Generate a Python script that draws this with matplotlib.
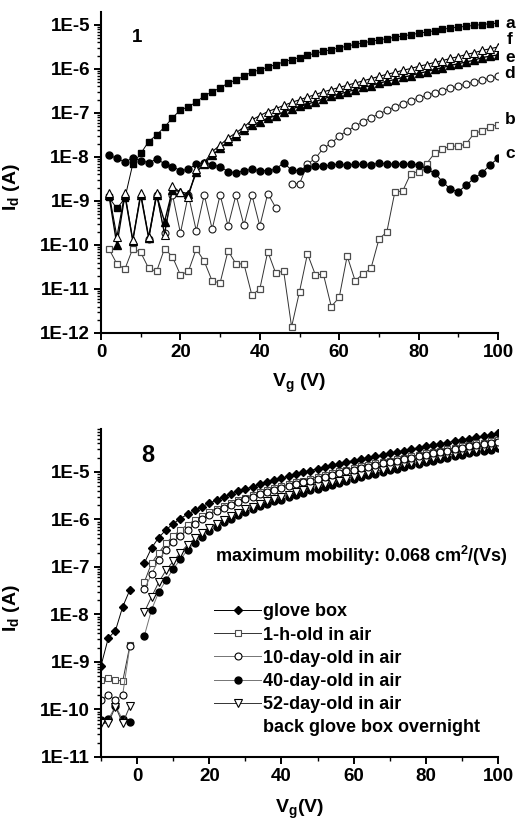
import numpy as np
import matplotlib.pyplot as plt
from matplotlib.ticker import LogLocator, NullFormatter, FuncFormatter, MultipleLocator
from matplotlib.lines import Line2D

plt.rcParams['font.family'] = 'Liberation Sans'
plt.rcParams['font.weight'] = 'bold'
plt.rcParams['mathtext.fontset'] = 'custom'
plt.rcParams['mathtext.rm'] = 'Liberation Sans:bold'
plt.rcParams['mathtext.it'] = 'Liberation Sans:bold'
plt.rcParams['mathtext.bf'] = 'Liberation Sans:bold'

nan = np.nan

# ---- panel 1 : log10(Id), Vg = 2..100 V step 2
vg_top = np.arange(2, 101, 2)

log_a = [-8.92, -9.17, -8.94, -8.16, -7.92, -7.65, -7.50, -7.32, -7.11, -6.93,
         -6.86, -6.75, -6.61, -6.52, -6.43, -6.32, -6.25, -6.16, -6.07, -6.02,
         -5.96, -5.90, -5.84, -5.79, -5.74, -5.69, -5.64, -5.60, -5.56, -5.52,
         -5.48, -5.44, -5.41, -5.37, -5.34, -5.31, -5.28, -5.25, -5.22, -5.19,
         -5.16, -5.13, -5.10, -5.07, -5.05, -5.03, -5.01, -4.99, -4.97, -4.96]
log_b = [-10.09, -10.43, -10.55, -10.08, -10.17, -10.53, -10.60, -10.08, -10.27, -10.68,
         -10.60, -10.09, -10.37, -10.82, -10.86, -10.13, -10.43, -10.43, -11.14, -11.00,
         -10.15, -10.64, -10.59, -11.86, -11.06, -10.20, -10.68, -10.66, -11.40, -11.19,
         -10.25, -10.81, -10.66, -10.53, -9.87, -9.70, -8.80, -8.77, -8.38, -8.33,
         -8.15, -7.92, -7.82, -7.75, -7.76, -7.70, -7.46, -7.41, -7.31, -7.27]
log_c = [-7.96, -8.03, -8.11, -8.03, -8.08, -8.13, -8.05, -8.15, -8.22, -8.31,
         -8.28, -8.16, -8.13, -8.18, -8.22, -8.33, -8.36, -8.31, -8.28, -8.31,
         -8.31, -8.28, -8.13, -8.30, -8.31, -8.24, -8.21, -8.21, -8.18, -8.16,
         -8.19, -8.16, -8.17, -8.19, -8.13, -8.16, -8.16, -8.16, -8.16, -8.18,
         -8.28, -8.36, -8.56, -8.73, -8.79, -8.64, -8.48, -8.36, -8.18, -8.03]
log_d = [nan, nan, nan, nan, nan, -9.87, -8.86, -9.72, -8.86, -9.73,
         -8.86, -9.68, -8.86, -9.64, -8.86, -9.57, -8.86, -9.55, -8.86, -9.57,
         -8.83, -9.15, nan, -8.61, -8.61, -8.16, -8.03, -7.80, -7.69, -7.52,
         -7.41, -7.30, -7.20, -7.11, -7.02, -6.94, -6.86, -6.79, -6.72, -6.66,
         -6.60, -6.54, -6.49, -6.44, -6.39, -6.34, -6.29, -6.25, -6.21, -6.17]
log_e = [-8.87, -10.00, -8.87, -9.90, -8.87, -9.84, -8.87, -9.47, -8.75, -8.79,
         -8.84, -8.35, -8.15, -7.96, -7.80, -7.64, -7.52, -7.38, -7.28, -7.20,
         -7.12, -7.06, -6.98, -6.91, -6.85, -6.80, -6.74, -6.68, -6.62, -6.57,
         -6.52, -6.47, -6.42, -6.38, -6.32, -6.28, -6.24, -6.19, -6.15, -6.10,
         -6.06, -6.01, -5.97, -5.92, -5.88, -5.84, -5.80, -5.74, -5.71, -5.68]
log_f = [-8.82, -9.81, -8.82, -9.89, -8.82, -9.82, -8.82, -9.77, -8.67, -8.80,
         -8.90, -8.28, -8.13, -7.88, -7.73, -7.57, -7.45, -7.32, -7.16, -7.06,
         -6.97, -6.90, -6.83, -6.76, -6.70, -6.64, -6.58, -6.52, -6.47, -6.42,
         -6.37, -6.32, -6.27, -6.22, -6.17, -6.12, -6.08, -6.03, -5.99, -5.94,
         -5.90, -5.85, -5.81, -5.76, -5.72, -5.67, -5.63, -5.58, -5.54, -5.50]
curve_labels = ['a', 'f', 'e', 'd', 'b', 'c']

# ---- panel 8 : Vg = -10..100 V step 2 (no point at 0 V)
vg_bot = np.arange(-10, 101, 2)

log_gb = [-9.08, -8.50, -8.34, -7.84, -7.48, nan,
          -6.92, -6.60, -6.38, -6.22, -6.09, -5.98, -5.89, -5.81, -5.73, -5.66,
          -5.59, -5.53, -5.47, -5.41, -5.36, -5.31, -5.26, -5.21, -5.17, -5.13,
          -5.09, -5.05, -5.01, -4.97, -4.93, -4.90, -4.86, -4.83, -4.79, -4.76,
          -4.73, -4.70, -4.67, -4.64, -4.61, -4.58, -4.55, -4.52, -4.49, -4.46,
          -4.43, -4.41, -4.38, -4.35, -4.32, -4.30, -4.27, -4.25, -4.22, -4.19]
log_1h = [-9.38, -9.34, -9.37, -9.41, -8.65, nan,
          -7.32, -6.92, -6.70, -6.50, -6.35, -6.22, -6.11, -6.01, -5.92, -5.84,
          -5.77, -5.71, -5.65, -5.59, -5.54, -5.48, -5.43, -5.38, -5.34, -5.30,
          -5.26, -5.22, -5.18, -5.14, -5.10, -5.06, -5.02, -4.99, -4.95, -4.92,
          -4.88, -4.85, -4.82, -4.79, -4.76, -4.73, -4.70, -4.67, -4.64, -4.61,
          -4.58, -4.55, -4.52, -4.49, -4.46, -4.43, -4.40, -4.38, -4.35, -4.32]
log_10d = [-9.80, -9.69, -9.80, -9.69, -8.66, nan,
           -7.47, -7.15, -6.85, -6.64, -6.47, -6.35, -6.22, -6.09, -5.99, -5.90,
           -5.82, -5.75, -5.69, -5.63, -5.57, -5.52, -5.47, -5.42, -5.38, -5.34,
           -5.30, -5.26, -5.22, -5.18, -5.14, -5.10, -5.06, -5.03, -4.99, -4.96,
           -4.92, -4.89, -4.86, -4.82, -4.79, -4.76, -4.73, -4.70, -4.67, -4.64,
           -4.61, -4.58, -4.55, -4.52, -4.49, -4.46, -4.43, -4.41, -4.38, -4.36]
log_40d = [-10.23, -10.21, -9.93, -10.21, -10.26, nan,
           -8.45, -7.90, -7.53, -7.28, -7.04, -6.84, -6.64, -6.49, -6.36, -6.25,
           -6.15, -6.06, -5.98, -5.91, -5.84, -5.78, -5.72, -5.67, -5.62, -5.58,
           -5.53, -5.48, -5.44, -5.39, -5.35, -5.31, -5.27, -5.23, -5.19, -5.15,
           -5.11, -5.07, -5.04, -5.00, -4.96, -4.93, -4.89, -4.86, -4.83, -4.79,
           -4.76, -4.73, -4.70, -4.67, -4.64, -4.61, -4.58, -4.55, -4.53, -4.50]
log_52d = [-10.29, -10.29, -9.94, -10.29, -9.93, nan,
           -7.95, -7.63, -7.32, -7.07, -6.88, -6.70, -6.53, -6.40, -6.28, -6.18,
           -6.09, -6.01, -5.93, -5.86, -5.79, -5.73, -5.67, -5.62, -5.57, -5.53,
           -5.48, -5.43, -5.39, -5.34, -5.30, -5.26, -5.22, -5.18, -5.14, -5.10,
           -5.06, -5.02, -4.99, -4.95, -4.91, -4.88, -4.84, -4.81, -4.78, -4.74,
           -4.71, -4.68, -4.65, -4.62, -4.59, -4.56, -4.53, -4.50, -4.48, -4.45]
legend_names = ['glove box', '1-h-old in air', '10-day-old in air',
                '40-day-old in air', '52-day-old in air', 'back glove box overnight']


def I(v):
    return 10 ** np.array(v, dtype=float)


def style(ax):
    ax.set_yscale('log')
    for s in ['top', 'right']:
        ax.spines[s].set_visible(False)
    for s in ['left', 'bottom']:
        ax.spines[s].set_linewidth(1.5)
    ax.yaxis.set_major_locator(LogLocator(base=10, numticks=30))
    ax.yaxis.set_minor_locator(LogLocator(base=10, subs=np.arange(2, 10), numticks=200))
    ax.yaxis.set_minor_formatter(NullFormatter())
    ax.yaxis.set_major_formatter(FuncFormatter(lambda v, p: '1E%d' % int(round(np.log10(v)))))
    ax.xaxis.set_major_locator(MultipleLocator(20))
    ax.xaxis.set_minor_locator(MultipleLocator(10))
    ax.tick_params(which='major', direction='out', length=5, width=1.4, labelsize=13.5, pad=3)
    ax.tick_params(which='minor', direction='out', length=3, width=1.0)


fig = plt.figure(figsize=(5.21, 8.21), dpi=100)

# top panel
ax1 = fig.add_axes([0.1939, 0.5944, 0.762, 0.391])
style(ax1)
ax1.plot(vg_top, I(log_b), 's-', color='0.2', mfc='white', mec='0.3', ms=4.5, mew=0.9, lw=0.7)
ax1.plot(vg_top, I(log_d), 'o-', color='0.2', mfc='white', mec='0.1', ms=5, mew=0.8, lw=0.7)
ax1.plot(vg_top, I(log_c), 'o-', color='k', mfc='k', mec='k', ms=5, lw=0.7)
ax1.plot(vg_top, I(log_a), 's-', color='k', mfc='k', mec='k', ms=4.5, lw=0.7)
ax1.plot(vg_top, I(log_e), '^-', color='k', mfc='k', mec='k', ms=5.5, lw=1.0)
ax1.plot(vg_top, I(log_f), '^-', color='k', mfc='white', mec='k', ms=5.5, mew=0.8, lw=0.8)
ax1.set_xlim(0, 100)
ax1.set_ylim(1e-12, 10 ** -4.705)
ax1.set_ylabel('I$_d$ (A)', fontsize=14, fontweight='bold')
ax1.yaxis.set_label_coords(-0.20, 0.455)
ax1.set_xlabel('V$_g$ (V)', fontsize=14, fontweight='bold')
ax1.xaxis.set_label_coords(0.5, -0.12)
ax1.text(0.09, 0.92, '1', transform=ax1.transAxes, fontsize=13.5, fontweight='bold',
         ha='center', va='center')
label_y = [23, 40, 57, 73, 120, 153]
for lab, py in zip(curve_labels, label_y):
    fig.text(510 / 521, 1 - py / 821, lab, fontsize=12.5, fontweight='bold',
             ha='center', va='center')

# bottom panel
ax2 = fig.add_axes([0.1939, 0.078, 0.762, 0.3995])
style(ax2)
l_gb, = ax2.plot(vg_bot, I(log_gb), 'D-', color='k', mfc='k', mec='k', ms=4.5, lw=0.7)
l_40, = ax2.plot(vg_bot, I(log_40d), 'o-', color='0.45', mfc='k', mec='k', ms=5, lw=0.7)
l_52, = ax2.plot(vg_bot, I(log_52d), 'v-', color='0.2', mfc='white', mec='k', ms=5.5, mew=0.8, lw=0.7)
l_1h, = ax2.plot(vg_bot, I(log_1h), 's-', color='0.2', mfc='white', mec='0.3', ms=4.5, mew=0.8, lw=0.7)
l_10, = ax2.plot(vg_bot, I(log_10d), 'o-', color='0.45', mfc='white', mec='k', ms=5, mew=0.8, lw=0.7)
ax2.set_xlim(-10, 100)
ax2.set_ylim(1e-11, 10 ** -4.095)
ax2.set_ylabel('I$_d$ (A)', fontsize=14, fontweight='bold')
ax2.yaxis.set_label_coords(-0.20, 0.454)
ax2.set_xlabel('V$_g$(V)', fontsize=14, fontweight='bold')
ax2.xaxis.set_label_coords(0.5, -0.125)
ax2.text(0.117, 0.92, '8', transform=ax2.transAxes, fontsize=17, fontweight='bold',
         ha='center', va='center')
ax2.text(0.287, 0.613, 'maximum mobility: 0.068 cm$^2$/(Vs)', transform=ax2.transAxes,
         fontsize=13, fontweight='bold', ha='left', va='center')

blank = Line2D([], [], linestyle='none', marker='none')
handles = [l_gb, l_1h, l_10, l_40, l_52, blank]
ax2.legend(handles, legend_names, loc='upper left', bbox_to_anchor=(0.285, 0.468),
           frameon=False, fontsize=13, handlelength=2.6, handletextpad=0.1,
           labelspacing=0.34, borderpad=0, borderaxespad=0)

fig.savefig('out.png', dpi=100)
